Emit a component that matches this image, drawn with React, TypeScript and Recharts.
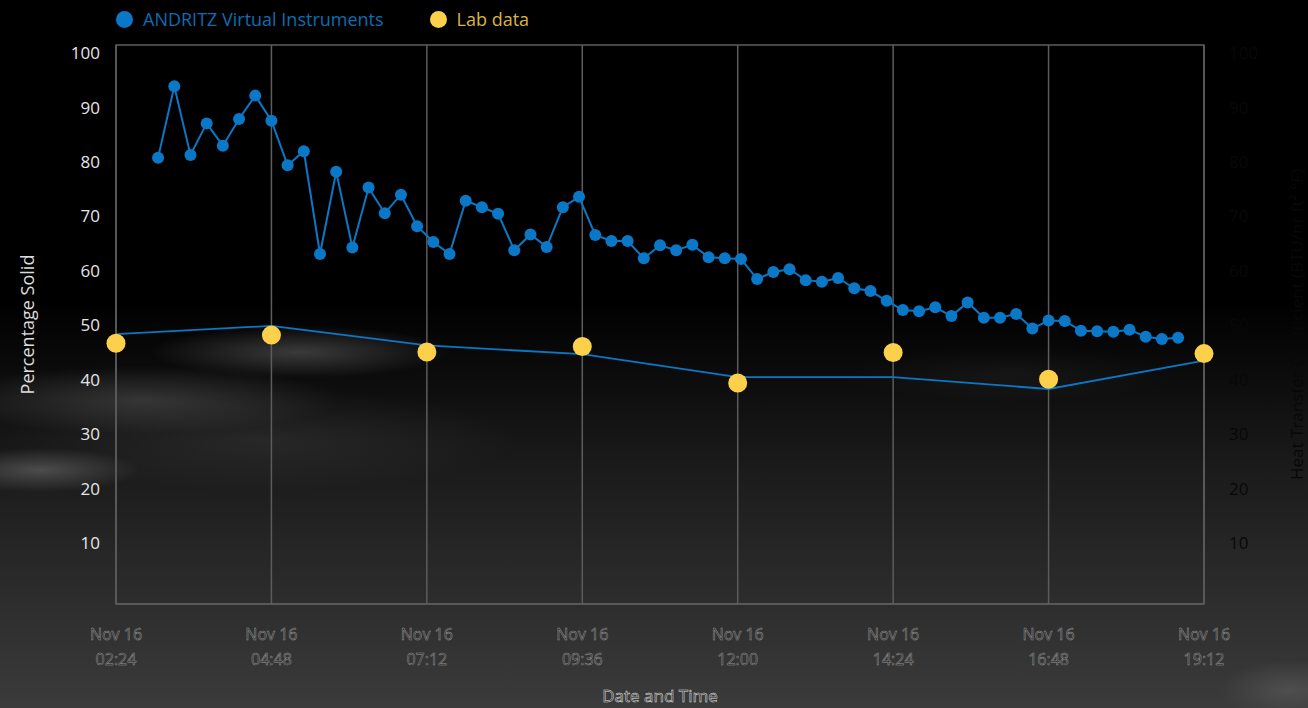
import React from "react";
import { ComposedChart, Line, XAxis, YAxis, CartesianGrid, Legend, ReferenceArea } from "recharts";

// ANDRITZ virtual instrument readings (every 15 min)
const viTimes = [
  "03:03", "03:18", "03:33", "03:48", "04:03", "04:18", "04:33", "04:48",
  "05:03", "05:18", "05:33", "05:48", "06:03", "06:18", "06:33", "06:48",
  "07:03", "07:18", "07:33", "07:48", "08:03", "08:18", "08:33", "08:48",
  "09:03", "09:18", "09:33", "09:48", "10:03", "10:18", "10:33", "10:48",
  "11:03", "11:18", "11:33", "11:48", "12:03", "12:18", "12:33", "12:48",
  "13:03", "13:18", "13:33", "13:48", "14:03", "14:18", "14:33", "14:48",
  "15:03", "15:18", "15:33", "15:48", "16:03", "16:18", "16:33", "16:48",
  "17:03", "17:18", "17:33", "17:48", "18:03", "18:18", "18:33", "18:48",
];
const viValues = [
  80.8, 93.9, 81.3, 87.1, 83.0, 87.9, 92.2, 87.6, 79.4, 82.0, 63.1, 78.2, 64.3, 75.3, 70.6, 74.0,
  68.2, 65.3, 63.1, 72.9, 71.7, 70.5, 63.8, 66.7, 64.4, 71.7, 73.6, 66.6, 65.5, 65.5, 62.3, 64.7,
  63.8, 64.8, 62.5, 62.3, 62.2, 58.5, 59.8, 60.3, 58.3, 58.0, 58.7, 56.8, 56.3, 54.5, 52.8, 52.6,
  53.3, 51.7, 54.2, 51.4, 51.4, 52.1, 49.4, 50.9, 50.8, 49.0, 48.9, 48.8, 49.2, 47.9, 47.5, 47.7,
];

// lab samples and heat transfer coefficient
const labTimes = ["02:24", "04:48", "07:12", "09:36", "12:00", "14:24", "16:48", "19:12"];
const labValues = [46.7, 48.2, 45.1, 46.1, 39.4, 45.0, 40.1, 44.8];
const heatValues = [48.4, 49.9, 46.3, 44.7, 40.5, 40.5, 38.3, 43.5];

const tickDate = "Nov 16";
const xTicks = ["02:24", "04:48", "07:12", "09:36", "12:00", "14:24", "16:48", "19:12"];
const yTicks = [10, 20, 30, 40, 50, 60, 70, 80, 90, 100];

const toMin = (s: string) => {
  const [h, m] = s.split(":").map(Number);
  return h * 60 + m;
};
const fmt = (v: number) => {
  const h = Math.floor(v / 60);
  const m = v % 60;
  return `${String(h).padStart(2, "0")}:${String(m).padStart(2, "0")}`;
};

const viData = viTimes.map((t, i) => ({ t: toMin(t), vi: viValues[i] }));
const labData = labTimes.map((t, i) => ({ t: toMin(t), lab: labValues[i], heat: heatValues[i] }));

const FONT = "'Open Sans', sans-serif";
const BLUE = "#0a78c6";
const YELLOW = "#fdd04b";
const DARK_TEXT = "#080808";
const legendText: Record<string, string> = { vi: "#0c6db2", lab: "#d9b445" };

const TimeTick = (props: any) => {
  const { x, y, payload } = props;
  return (
    <g transform={`translate(${x},${y})`}>
      <text textAnchor="middle" fill="#262626" stroke="#999999" strokeWidth={0.5} fontSize={16}>
        <tspan x={0} dy={36}>{tickDate}</tspan>
        <tspan x={0} dy={25}>{fmt(payload.value)}</tspan>
      </text>
    </g>
  );
};

const RightTick = (props: any) => {
  const { x, y, payload } = props;
  return (
    <text x={x} y={y} dy="0.355em" textAnchor="start" fontSize={17} style={{ fill: DARK_TEXT }}>
      {payload.value}
    </text>
  );
};

const RightTitle = (props: any) => {
  const { viewBox } = props;
  const cx = viewBox.x + viewBox.width - 12;
  const cy = viewBox.y + viewBox.height / 2;
  return (
    <text
      x={cx}
      y={cy}
      transform={`rotate(-90, ${cx}, ${cy})`}
      textAnchor="middle"
      dominantBaseline="central"
      fontSize={17}
      style={{ fill: DARK_TEXT }}
    >
      Heat Transfer Coefficient (BTU/hr ft² °F)
    </text>
  );
};

const LegendContent = (props: any) => {
  const items = (props.payload || []).filter((p: any) => p.type !== "none");
  return (
    <div style={{ display: "flex", alignItems: "center", fontFamily: FONT, fontSize: 18 }}>
      {items.map((p: any) => (
        <div key={p.dataKey} style={{ display: "flex", alignItems: "center", marginRight: 46 }}>
          <span
            style={{
              width: 17,
              height: 17,
              borderRadius: "50%",
              background: p.dataKey === "lab" ? YELLOW : BLUE,
              marginRight: 10,
              display: "inline-block",
            }}
          />
          <span style={{ color: legendText[p.dataKey] }}>{p.value}</span>
        </div>
      ))}
    </div>
  );
};

const bg = [
  "radial-gradient(ellipse 150px 26px at 300px 352px, rgba(140,140,140,0.38), rgba(140,140,140,0) 100%)",
  "radial-gradient(ellipse 200px 34px at 140px 400px, rgba(130,130,130,0.32), rgba(130,130,130,0) 100%)",
  "radial-gradient(ellipse 100px 22px at 40px 470px, rgba(150,150,150,0.4), rgba(150,150,150,0) 100%)",
  "radial-gradient(ellipse 260px 50px at 260px 440px, rgba(100,100,100,0.22), rgba(100,100,100,0) 100%)",
  "radial-gradient(ellipse 160px 28px at 1010px 375px, rgba(90,90,90,0.12), rgba(90,90,90,0) 100%)",
  "radial-gradient(ellipse 70px 30px at 1290px 690px, rgba(130,130,130,0.3), rgba(130,130,130,0) 100%)",
  "linear-gradient(to bottom, #000 0px, #000 300px, #0b0b0b 370px, #1b1b1b 470px, #2a2a2a 580px, #3b3b3b 708px)",
].join(",");

export default function App() {
  return (
    <div
      style={{
        position: "absolute",
        left: 0,
        top: 0,
        width: 1308,
        height: 708,
        background: bg,
        fontFamily: FONT,
      }}
    >
      <ComposedChart width={1308} height={708} margin={{ top: 45, right: 0, bottom: 0, left: 0 }}>
        <CartesianGrid horizontal={false} stroke="#5c5c5c" strokeWidth={1.5} />
        <XAxis
          dataKey="t"
          type="number"
          domain={[toMin(xTicks[0]), toMin(xTicks[xTicks.length - 1])]}
          ticks={xTicks.map(toMin)}
          interval={0}
          height={104}
          tickSize={0}
          tickMargin={0}
          axisLine={{ stroke: "#5c5c5c", strokeWidth: 1.5 }}
          tick={<TimeTick />}
          label={{
            value: "Date and Time",
            position: "insideBottom",
            offset: 6,
            fontSize: 17,
            fill: "#262626",
            stroke: "#e0e0e0",
            strokeWidth: 0.5,
          }}
        />
        <YAxis
          yAxisId="left"
          width={116}
          domain={[-1.2, 101.5]}
          ticks={yTicks}
          interval={0}
          allowDataOverflow
          axisLine={false}
          tickLine={false}
          tickSize={0}
          tickMargin={16}
          tick={{ fill: "#e6e6e6", fontSize: 17 }}
          label={{
            value: "Percentage Solid",
            angle: -90,
            position: "insideLeft",
            offset: 28,
            fill: "#dcdcdc",
            fontSize: 18,
            style: { textAnchor: "middle" },
          }}
        />
        <YAxis
          yAxisId="right"
          orientation="right"
          width={104}
          domain={[-1.2, 101.5]}
          ticks={yTicks}
          interval={0}
          allowDataOverflow
          axisLine={false}
          tickLine={false}
          tickSize={0}
          tickMargin={25}
          tick={<RightTick />}
          label={<RightTitle />}
        />
        <ReferenceArea
          yAxisId="left"
          x1={toMin(xTicks[0])}
          x2={toMin(xTicks[xTicks.length - 1])}
          y1={-1.2}
          y2={101.5}
          fill="none"
          stroke="#5c5c5c"
          strokeWidth={1.5}
          ifOverflow="extendDomain"
        />
        <Line
          yAxisId="right"
          data={labData}
          dataKey="heat"
          name="Heat Transfer Coefficient"
          stroke={BLUE}
          strokeWidth={1.8}
          dot={false}
          legendType="none"
          isAnimationActive={false}
        />
        <Line
          yAxisId="left"
          data={viData}
          dataKey="vi"
          name="ANDRITZ Virtual Instruments"
          stroke={BLUE}
          strokeWidth={2}
          dot={{ r: 6, fill: BLUE, stroke: "none" }}
          isAnimationActive={false}
        />
        <Line
          yAxisId="left"
          data={labData}
          dataKey="lab"
          name="Lab data"
          stroke="none"
          dot={{ r: 9.5, fill: YELLOW, stroke: "none" }}
          isAnimationActive={false}
        />
        <Legend
          layout="vertical"
          align="center"
          verticalAlign="middle"
          wrapperStyle={{ top: 7, left: 116, width: "auto", height: "auto" }}
          content={<LegendContent />}
        />
      </ComposedChart>
    </div>
  );
}
